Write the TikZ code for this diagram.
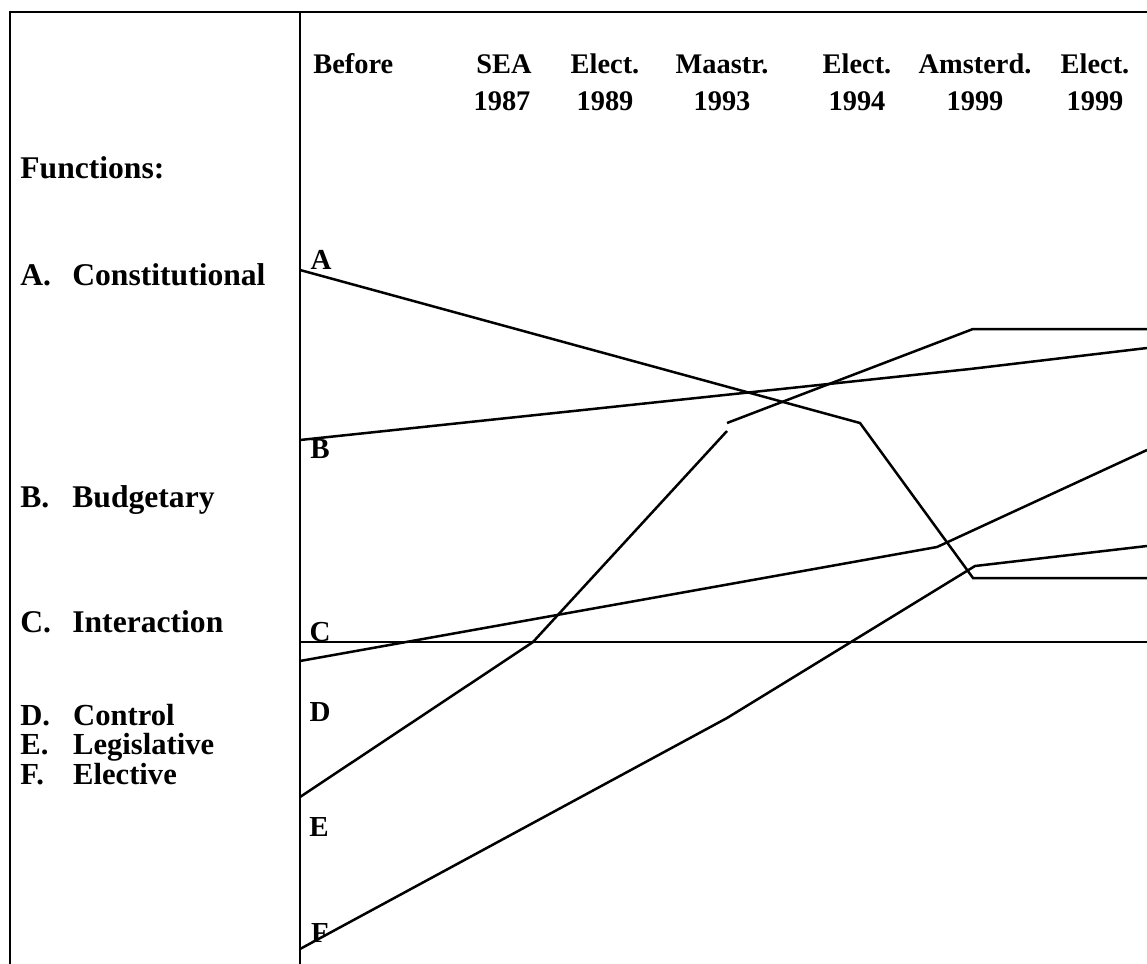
\documentclass[tikz,border=0pt]{standalone}
\usepackage{fontspec}
\setmainfont{Liberation Serif}
\begin{document}
\begin{tikzpicture}[x=0.5pt,y=-0.5pt,
  frame/.style={line width=1pt,black},
  series/.style={line width=1.25pt,black,line join=miter},
  leftlab/.style={anchor=base west,inner sep=0pt,font=\fontsize{15.8}{18}\selectfont\bfseries},
  leftsmall/.style={leftlab,font=\fontsize{15.3}{17}\selectfont\bfseries},
  head/.style={anchor=base,inner sep=0pt,font=\fontsize{14.2}{18}\selectfont\bfseries},
  letter/.style={inner sep=0pt,font=\fontsize{14.5}{17}\selectfont\bfseries}]
\useasboundingbox (0,0) rectangle (1147,964);
% frame
\coordinate (tl) at (10,12);
\coordinate (tr) at (1147,12);
\coordinate (bl) at (10,964);
\coordinate (mt) at (300,12);
\coordinate (mb) at (300,964);
\draw[frame] (bl) -- (tl) -- (tr);
\draw[frame] (mt) -- (mb);
% left labels
\node[leftlab] (fn) at (20,178) {Functions:};
\node[leftlab] (la) at (20,285) {\makebox[26pt][l]{A.}Constitutional};
\node[leftlab] (lb) at (20,507) {\makebox[26pt][l]{B.}Budgetary};
\node[leftlab] (lc) at (20,632) {\makebox[26pt][l]{C.}Interaction};
\node[leftsmall] (ld) at (20,725) {\makebox[26.4pt][l]{D.}Control};
\node[leftsmall] (le) at (20,754) {\makebox[26.4pt][l]{E.}Legislative};
\node[leftsmall] (lf) at (20,784) {\makebox[26.4pt][l]{F.}Elective};
% header
\node[head,anchor=base west] (h0) at (313,73) {Before};
\node[head] (h1a) at (504,73) {SEA};
\node[head] (h1b) at (502,110) {1987};
\node[head] (h2a) at (605,73) {Elect.};
\node[head] (h2b) at (605,110) {1989};
\node[head] (h3a) at (722,73) {Maastr.};
\node[head] (h3b) at (722,110) {1993};
\node[head] (h4a) at (857,73) {Elect.};
\node[head] (h4b) at (857,110) {1994};
\node[head] (h5a) at (975,73) {Amsterd.};
\node[head] (h5b) at (975,110) {1999};
\node[head] (h6a) at (1095,73) {Elect.};
\node[head] (h6b) at (1095,110) {1999};
% series letters
\node[letter] (ta) at (321,260) {A};
\node[letter] (tb) at (320,449) {B};
\node[letter] (tc) at (320,632) {C};
\node[letter] (td) at (320,712) {D};
\node[letter] (te) at (319,827) {E};
\node[letter] (tf) at (320,933) {F};
% series points
\coordinate (a0) at (300,270);
\coordinate (a1) at (860,423);
\coordinate (a2) at (973,578);
\coordinate (a3) at (1147,578);
\coordinate (b0) at (300,440);
\coordinate (b1) at (970,369);
\coordinate (b2) at (1147,348);
\coordinate (c0) at (300,642);
\coordinate (c1) at (1147,642);
\coordinate (d0) at (300,661);
\coordinate (d1) at (937,547);
\coordinate (d2) at (1147,450);
\coordinate (e0) at (300,797);
\coordinate (e1) at (533,642);
\coordinate (e2) at (727,431);
\coordinate (e3) at (727,423);
\coordinate (e4) at (973,329);
\coordinate (e5) at (1147,329);
\coordinate (f0) at (300,949);
\coordinate (f1) at (727,718);
\coordinate (f2) at (975,566);
\coordinate (f3) at (1147,546);
\draw[series] (a0) -- (a1) -- (a2) -- (a3);
\draw[series] (b0) -- (b1) -- (b2);
\draw[frame] (c0) -- (c1);
\draw[series] (d0) -- (d1) -- (d2);
\draw[series] (e0) -- (e1) -- (e2);
\draw[series] (e3) -- (e4) -- (e5);
\draw[series] (f0) -- (f1) -- (f2) -- (f3);
\end{tikzpicture}
\end{document}
